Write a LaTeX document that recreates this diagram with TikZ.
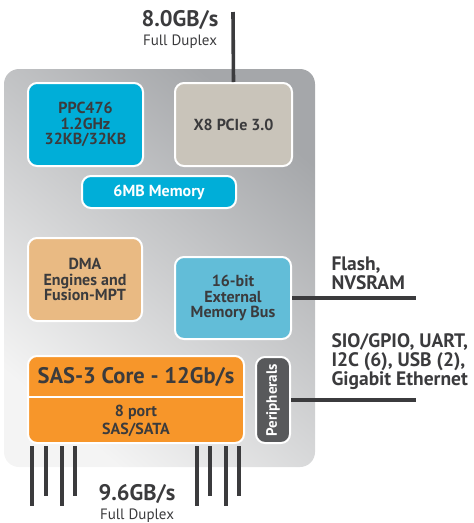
\documentclass[tikz,border=0pt]{standalone}
\usepackage{fontspec}
\setmainfont{PT Sans}
\usetikzlibrary{calc}

\definecolor{chipgray}{HTML}{A5A7AA}
\definecolor{chiplight}{HTML}{F4F4F4}
\definecolor{cpublue}{HTML}{00AED8}
\definecolor{pciegray}{HTML}{C9C4BA}
\definecolor{dmatan}{HTML}{E9BA83}
\definecolor{busblue}{HTML}{62BDD8}
\definecolor{sasorange}{HTML}{F7962A}
\definecolor{perigray}{HTML}{58595B}
\definecolor{textdark}{HTML}{3B3B3D}

\begin{document}
\begin{tikzpicture}[x=1pt,y=-1pt,
    block/.style={draw=white,line width=2pt,rounded corners=9pt,align=center,
      text=textdark,inner sep=0pt,font=\bfseries\fontsize{16}{15.5}\selectfont},
    wire/.style={draw=textdark,line width=3.6pt},
    side/.style={anchor=west,align=left,text=textdark,
      font=\bfseries\fontsize{19.5}{19}\selectfont},
    rate/.style={text=textdark,font=\bfseries\fontsize{22.5}{24}\selectfont},
    duplex/.style={text=textdark,font=\fontsize{15}{16}\selectfont}]
    \useasboundingbox (0,0) rectangle (474,523);

    % Chip body with its grey gradient
    \shade[rounded corners=15pt,top color=chipgray,bottom color=chiplight,
      shading angle=-40] (4,69) rectangle (315,467);

    % Blocks inside the chip
    \node[block,fill=cpublue,minimum width=115,minimum height=83] (ppc)
      at (85.5,124.5) {PPC476\\1.2GHz\\32KB/32KB};
    \node[block,fill=pciegray,minimum width=117,minimum height=83] (pcie)
      at (233.5,124.5) {X8 PCIe 3.0};
    \node[block,fill=cpublue,text=white,minimum width=154,minimum height=32] (mem)
      at (159,192) {6MB Memory};
    \node[block,fill=dmatan,minimum width=114,minimum height=83] (dma)
      at (85,279.5) {DMA\\Engines and\\Fusion-MPT};
    \node[block,fill=busblue,minimum width=116,minimum height=82] (extbus)
      at (233,298) {16-bit\\External\\Memory Bus};

    % SAS core, split in two parts
    \node[block,fill=sasorange,minimum width=216,minimum height=87] (sas)
      at (136,399.5) {};
    \draw[white,line width=2pt] (sas.west |- 0,397) -- (sas.east |- 0,397);
    \node[text=textdark,font=\bfseries\fontsize{22.5}{24}\selectfont] (sastitle)
      at (136,377) {SAS-3 Core - 12Gb/s};
    \node[align=center,text=textdark,font=\bfseries\fontsize{16}{18}\selectfont]
      (sasports) at (136,421) {8 port\\SAS/SATA};
    \node[block,fill=perigray,text=white,rotate=90,minimum width=86,
      minimum height=34,font=\bfseries\fontsize{15}{16}\selectfont] (periph)
      at (273,400) {Peripherals};

    % PCIe link
    \coordinate (pcietop) at (233,12);
    \draw[wire] (pcie.north) -- (pcietop);
    \node[rate] (rate8) at (180,20) {8.0GB/s};
    \node[duplex] (duplex8) at (180,42) {Full Duplex};

    % Side links
    \coordinate (flashend) at (416,298);
    \coordinate (periphend) at (416,400);
    \draw[wire] (extbus.east) -- (flashend);
    \draw[wire] (periph.south) -- (periphend);
    \node[side] (flash) at (328,273.5) {Flash,\\NVSRAM};
    \node[side] (iolist) at (328,362) {SIO/GPIO, UART,\\I2C (6), USB (2),\\Gigabit Ethernet};

    % SAS ports
    \foreach \x/\y in {32/506,46/496,62/506,75/496,197/506,210/496,226/506,239/496}
      \draw[wire] (sas.south -| \x,0) ++(0,2) -- (\x,\y);
    \node[rate] (rate96) at (137,494) {9.6GB/s};
    \node[duplex] (duplex96) at (137,516) {Full Duplex};
\end{tikzpicture}
\end{document}
